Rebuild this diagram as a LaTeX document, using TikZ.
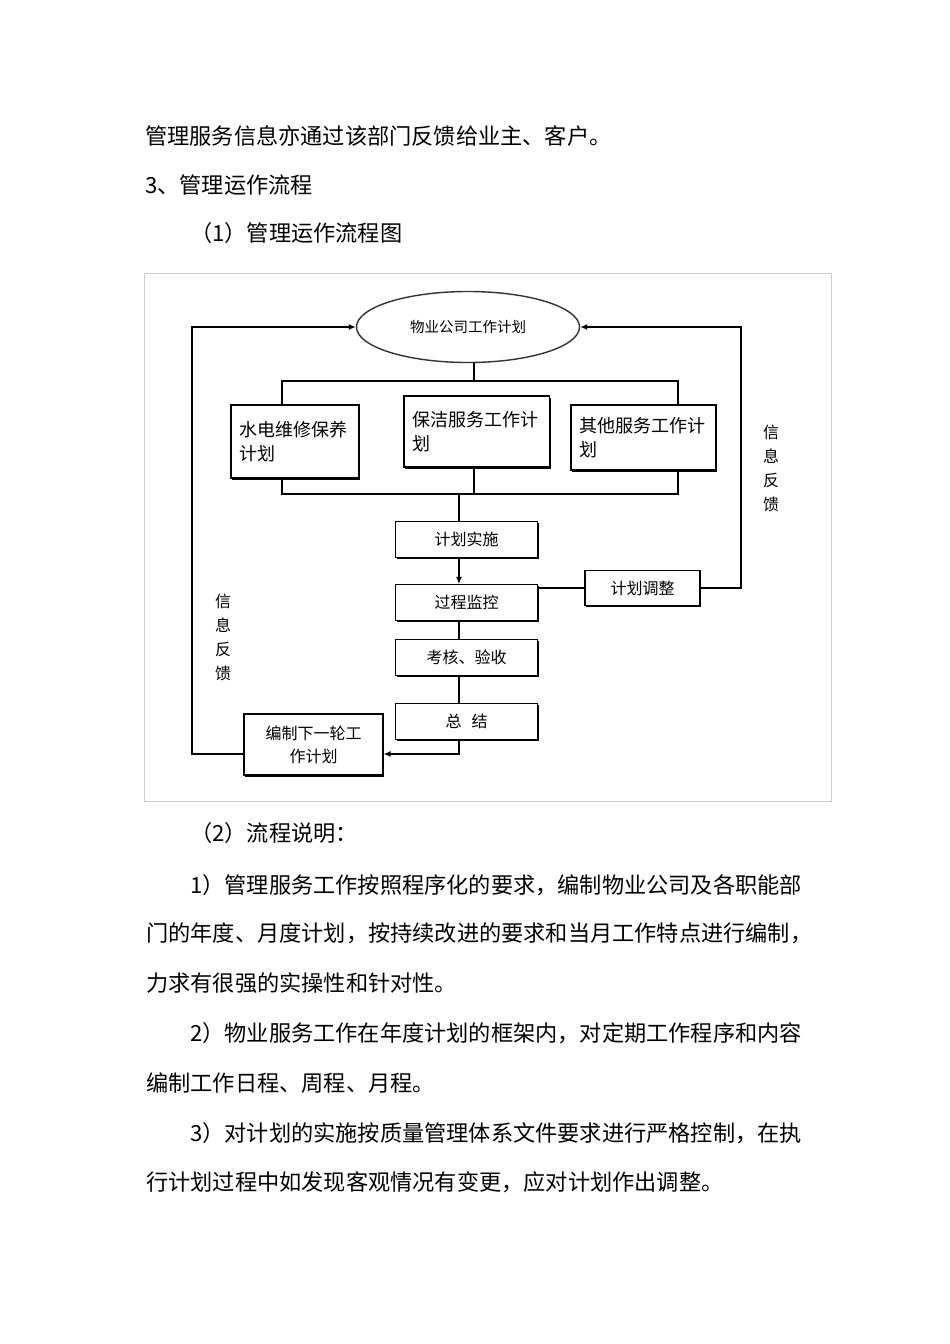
\documentclass[tikz,border=0pt]{standalone}
\usepackage{fontspec}
\setmainfont{Noto Sans CJK SC}
\usepackage{tikz}
\usetikzlibrary{arrows.meta,shapes,positioning,calc,shadows}

\begin{document}
\begin{tikzpicture}[
    x=1pt, y=-1pt,
    node distance=60pt,
    box/.style={rectangle, draw, fill=white, line width=1.1pt, minimum width=142pt, minimum height=36pt, inner sep=0pt, font=\fontsize{16}{18}\selectfont, drop shadow={shadow xshift=1pt, shadow yshift=-1.5pt, fill=black, opacity=1}},
    subplan/.style={box, align=left, inner xsep=8pt, font=\fontsize{18}{24}\selectfont},
    arrow/.style={-{Latex[length=7pt,width=6pt]}, line width=1.1pt},
    link/.style={line width=1.1pt},
    feedback/.style={line width=1.8pt},
    vlabel/.style={align=center, inner sep=0pt, font=\fontsize{16}{24}\selectfont},
    para/.style={anchor=west, inner sep=0pt, font=\fontsize{22.2}{26}\selectfont}
]
    \useasboundingbox (0,0) rectangle (950,1344);
    \fill[white] (0,0) rectangle (950,1344);

    % page text above the figure
    \node[para] (intro) at (145,136) {管理服务信息亦通过该部门反馈给业主、客户。};
    \node[para] (sec) at (145,185) {3、管理运作流程};
    \node[para] (fig) at (190,233) {（1）管理运作流程图};

    % figure frame
    \draw[black!20, line width=1pt] (144,273) rectangle (831,801);

    \node[ellipse, draw=black!80, line width=1.4pt, minimum width=223pt, minimum height=71pt, inner sep=0pt, font=\fontsize{14.5}{16}\selectfont] (plan) at (468,327) {物业公司工作计划};

    \node[subplan, minimum width=128pt, minimum height=73pt, text width=112pt] (water) at (295,441.5) {水电维修保养\\计划};
    \node[subplan, minimum width=145.5pt, minimum height=71pt, text width=129.5pt] (cleaning) at (476.75,431.5) {保洁服务工作计\\划};
    \node[subplan, minimum width=145pt, minimum height=65pt, text width=129pt] (others) at (643.5,437.5) {其他服务工作计\\划};

    \node[box] (implement) at (466.5,539.5) {计划实施};
    \node[box, below of=implement, yshift=-3pt] (monitor) {过程监控};
    \node[box, below of=monitor, yshift=5pt] (assess) {考核、验收};
    \node[box, below of=assess, yshift=-4pt] (summary) {总\hspace{10pt}结};
    \node[box, minimum width=115pt, minimum height=35pt] (adjust) at (642.5,588) {计划调整};
    \node[box, minimum width=139pt, minimum height=61pt, align=center, font=\fontsize{16}{23}\selectfont] (nextplan) at (313.5,744.5) {编制下一轮工\\作计划};

    \node[vlabel] (fbright) at (771,468) {信\\息\\反\\馈};
    \node[vlabel] (fbleft) at (223,637) {信\\息\\反\\馈};

    \coordinate (tl) at (282,381);
    \coordinate (tr) at (678,381);
    \coordinate (bl) at (282,494);
    \coordinate (br) at (678,494);
    \coordinate (mid) at (474,381);
    \coordinate (spine) at (459,494);
    \coordinate (turn) at (459,754);
    \coordinate (leftfb) at (192,328);
    \coordinate (rightfb) at (741,328);

    \draw[link] (plan.south -| mid) -- (mid);
    \draw[link] (water.north -| tl) -- (tl) -- (tr) -- (others.north -| tr);
    \draw[link] (water.south -| bl) -- (bl) -- (br) -- (others.south -| br);
    \draw[link] (cleaning.south -| mid) -- (bl -| mid);

    \draw[link] (spine) -- (spine |- implement.north);
    \draw[arrow] (spine |- implement.south) -- (spine |- monitor.north);
    \draw[link] (spine |- monitor.south) -- (spine |- assess.north);
    \draw[link] (spine |- assess.south) -- (spine |- summary.north);
    \draw[arrow] (spine |- summary.south) -- (turn) -- (turn -| nextplan.east);

    \draw[feedback] (monitor.east |- adjust.west) -- (adjust.west);
    \draw[feedback, arrow, line width=1.8pt] (adjust.east) -- (rightfb |- adjust.east) -- (rightfb |- plan.east) -- (plan.east);
    \draw[feedback, arrow, line width=1.8pt] (nextplan.west |- turn) -- (leftfb |- turn) -- (leftfb |- plan.west) -- (plan.west);

    % page text below the figure
    \node[para] (notes) at (190,833) {（2）流程说明：};
    \node[para] (p1a) at (190,885) {1）管理服务工作按照程序化的要求，编制物业公司及各职能部};
    \node[para] (p1b) at (146,933) {门的年度、月度计划，按持续改进的要求和当月工作特点进行编制，};
    \node[para] (p1c) at (146,983) {力求有很强的实操性和针对性。};
    \node[para] (p2a) at (190,1033) {2）物业服务工作在年度计划的框架内，对定期工作程序和内容};
    \node[para] (p2b) at (146,1083) {编制工作日程、周程、月程。};
    \node[para] (p3a) at (190,1133) {3）对计划的实施按质量管理体系文件要求进行严格控制，在执};
    \node[para] (p3b) at (146,1182) {行计划过程中如发现客观情况有变更，应对计划作出调整。};
\end{tikzpicture}
\end{document}
